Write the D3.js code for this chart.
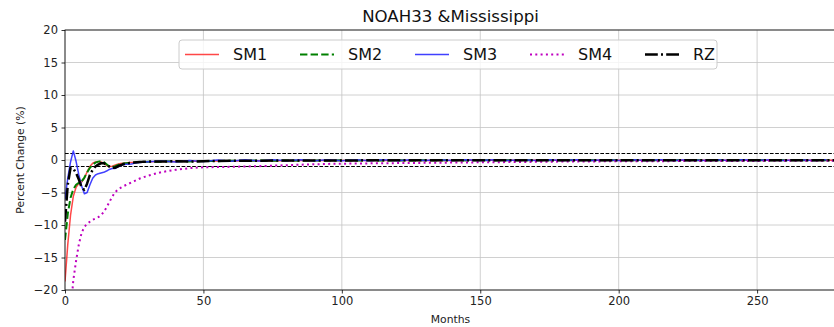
<!DOCTYPE html>
<html>
<head>
<meta charset="utf-8">
<script src="https://cdn.jsdelivr.net/npm/d3@7"></script>
<style>
  html, body { margin: 0; padding: 0; background: #fff; }
  svg { display: block; font-family: "DejaVu Sans", sans-serif; }
</style>
</head>
<body>
<svg id="chart" width="834" height="327"></svg>
<script>
// Month index shared by every series: monthly for the first 30 months, then every 5 months
const months = [
  0, 1, 2, 3, 4, 5, 6, 7, 8, 9, 10, 11, 12, 13, 14, 15, 16, 17, 18, 19, 20,
  21, 22, 23, 24, 25, 26, 27, 28, 29, 30,
  35, 40, 45, 50, 55, 60, 65, 70, 75, 80, 85, 90, 95, 100, 105, 110, 115, 120,
  125, 130, 135, 140, 145, 150, 155, 160, 165, 170, 175, 180, 185, 190, 195, 200,
  205, 210, 215, 220, 225, 230, 235, 240, 245, 250, 255, 260, 265, 270, 275, 278
];

const sm1 = [
  -18.7, -13.0, -8.5, -5.6, -4.2, -3.6, -3.4, -2.8, -1.8, -1.0, -0.5, -0.3, -0.25, -0.3, -0.5, -0.85,
  -1.0, -0.95, -0.8, -0.65, -0.55, -0.5, -0.45, -0.4, -0.4, -0.35, -0.35, -0.3, -0.3, -0.3, -0.28,
  -0.25, -0.22, -0.2, -0.18, -0.15, -0.14, -0.12, -0.12, -0.1, -0.1, -0.09, -0.09, -0.08, -0.08, -0.08,
  -0.07, -0.07, -0.07, -0.06, -0.06, -0.06, -0.06, -0.05, -0.05, -0.05, -0.05, -0.05, -0.05, -0.04,
  -0.04, -0.04, -0.04, -0.04, -0.04, -0.04, -0.04, -0.03, -0.03, -0.03, -0.03, -0.03, -0.03, -0.03,
  -0.03, -0.03, -0.03, -0.03, -0.03, -0.03, -0.03
];

const sm2 = [
  -12.3, -8.3, -5.8, -4.5, -3.8, -3.5, -3.3, -2.7, -1.9, -1.2, -0.7, -0.4, -0.25, -0.2, -0.3, -0.65,
  -1.0, -1.1, -1.0, -0.8, -0.65, -0.55, -0.5, -0.45, -0.4, -0.38, -0.35, -0.32, -0.3, -0.3, -0.28,
  -0.25, -0.18, -0.22, -0.14, -0.18, -0.1, -0.14, -0.08, -0.12, -0.07, -0.1, -0.06, -0.09, -0.05, -0.08,
  -0.05, -0.07, -0.04, -0.07, -0.04, -0.06, -0.04, -0.06, -0.03, -0.06, -0.03, -0.05, -0.03, -0.05,
  -0.03, -0.05, -0.03, -0.05, -0.03, -0.04, -0.03, -0.04, -0.03, -0.04, -0.03, -0.04, -0.03, -0.04,
  -0.03, -0.04, -0.03, -0.04, -0.03, -0.04, -0.03
];

const sm3 = [
  -6.0, -2.8, -0.3, 1.4, -0.2, -2.3, -4.0, -5.2, -5.0, -3.8, -2.8, -2.3, -2.1, -2.0, -1.9, -1.7,
  -1.45, -1.3, -1.3, -1.1, -0.9, -0.75, -0.65, -0.65, -0.6, -0.5, -0.42, -0.38, -0.35, -0.3, -0.28,
  -0.15, -0.3, -0.08, -0.25, 0.0, -0.18, 0.02, -0.15, 0.03, -0.12, 0.04, -0.12, 0.04, -0.1, 0.05,
  -0.1, 0.05, -0.1, 0.05, -0.08, 0.05, -0.08, 0.05, -0.08, 0.05, -0.08, 0.05, -0.07, 0.05, -0.07,
  0.05, -0.07, 0.05, -0.07, 0.05, -0.06, 0.05, -0.06, 0.05, -0.06, 0.05, -0.06, 0.05, -0.06, 0.05,
  -0.06, 0.05, -0.06, 0.04
];

const sm4 = [
  -45.0, -33.0, -23.5, -18.5, -15.5, -13.0, -11.2, -10.3, -9.8, -9.5, -9.2, -9.0, -8.8, -8.5, -8.0, -7.3,
  -6.5, -5.7, -5.0, -4.6, -4.3, -4.05, -3.85, -3.65, -3.45, -3.25, -3.05, -2.85, -2.7, -2.55, -2.4,
  -1.85, -1.5, -1.25, -1.12, -1.08, -1.05, -1.0, -0.95, -0.88, -0.8, -0.72, -0.66, -0.6, -0.57, -0.54,
  -0.52, -0.5, -0.48, -0.46, -0.44, -0.42, -0.4, -0.38, -0.36, -0.34, -0.32, -0.3, -0.28, -0.26, -0.24,
  -0.23, -0.22, -0.21, -0.2, -0.19, -0.18, -0.18, -0.17, -0.16, -0.16, -0.15, -0.15, -0.14, -0.14,
  -0.13, -0.13, -0.12, -0.12, -0.12, -0.11
];

const rz = [
  -9.5, -3.8, -1.2, -1.3, -2.0, -3.0, -4.2, -4.6, -3.6, -2.3, -1.5, -1.0, -0.7, -0.5, -0.5, -0.7,
  -1.0, -1.2, -1.2, -1.0, -0.8, -0.65, -0.55, -0.5, -0.45, -0.4, -0.35, -0.3, -0.28, -0.25, -0.25,
  -0.22, -0.2, -0.25, -0.18, -0.15, -0.12, -0.1, -0.1, -0.08, -0.08, -0.07, -0.07, -0.06, -0.06, -0.06,
  -0.05, -0.05, -0.05, -0.05, -0.05, -0.04, -0.04, -0.04, -0.04, -0.04, -0.04, -0.03, -0.03, -0.03,
  -0.03, -0.03, -0.03, -0.03, -0.03, -0.03, -0.03, -0.02, -0.02, -0.02, -0.02, -0.02, -0.02, -0.02,
  -0.02, -0.02, -0.02, -0.02, -0.02, -0.02, -0.02
];

const seriesNames = ["SM1", "SM2", "SM3", "SM4", "RZ"];
const xTicks = [0, 50, 100, 150, 200, 250];
const yTicks = [-20, -15, -10, -5, 0, 5, 10, 15, 20];
const bandLevels = [1, -1];

const styles = {
  SM1: { color: "#ff3333", width: 1.5, dash: null, opacity: 0.9 },
  SM2: { color: "#008000", width: 2.0, dash: "7.4,3.2", opacity: 1 },
  SM3: { color: "#2b2bff", width: 1.5, dash: null, opacity: 0.9 },
  SM4: { color: "#bf00bf", width: 2.0, dash: "2,3.3", opacity: 1 },
  RZ:  { color: "#000000", width: 2.5, dash: "12.8,3.2,2,3.2", opacity: 1 }
};
const seriesValues = { SM1: sm1, SM2: sm2, SM3: sm3, SM4: sm4, RZ: rz };

const svg = d3.select("#chart");
const margin = { left: 65, right: 836, top: 30, bottom: 290 };

const x = d3.scaleLinear().domain([0, 278.5]).range([margin.left, margin.right]);
const y = d3.scaleLinear().domain([-20, 20]).range([margin.bottom, margin.top]);

svg.append("defs").append("clipPath").attr("id", "plot-clip")
  .append("rect")
  .attr("x", margin.left).attr("y", margin.top)
  .attr("width", margin.right - margin.left).attr("height", margin.bottom - margin.top);

// grid
const grid = svg.append("g").attr("stroke", "#c4c4c4").attr("stroke-width", 0.8);
grid.selectAll("line.gx").data(xTicks).join("line")
  .attr("x1", d => x(d)).attr("x2", d => x(d))
  .attr("y1", margin.top).attr("y2", margin.bottom);
grid.selectAll("line.gy").data(yTicks).join("line")
  .attr("x1", margin.left).attr("x2", margin.right)
  .attr("y1", d => y(d)).attr("y2", d => y(d));

// +/-1 % reference band
svg.append("g").selectAll("line").data(bandLevels).join("line")
  .attr("x1", margin.left).attr("x2", margin.right)
  .attr("y1", d => y(d)).attr("y2", d => y(d))
  .attr("stroke", "#000").attr("stroke-width", 1)
  .attr("stroke-dasharray", "3.7,1.6");

// series lines
const lineGen = d3.line().x(d => x(d[0])).y(d => y(d[1]));
const plot = svg.append("g").attr("clip-path", "url(#plot-clip)");
seriesNames.forEach(name => {
  const st = styles[name];
  const pts = months.map((m, i) => [m, seriesValues[name][i]]);
  plot.append("path")
    .datum(pts)
    .attr("d", lineGen)
    .attr("fill", "none")
    .attr("stroke", st.color)
    .attr("stroke-width", st.width)
    .attr("stroke-opacity", st.opacity)
    .attr("stroke-dasharray", st.dash)
    .attr("stroke-linejoin", "round");
});

// axes
const xAxis = d3.axisBottom(x).tickValues(xTicks).tickSize(3.5).tickPadding(3.5);
const yAxis = d3.axisLeft(y).tickValues(yTicks).tickSize(3.5).tickPadding(3.5);

const gx = svg.append("g").attr("transform", `translate(0,${margin.bottom})`).call(xAxis);
const gy = svg.append("g").attr("transform", `translate(${margin.left},0)`).call(yAxis);
[gx, gy].forEach(g => {
  g.select(".domain").remove();
  g.selectAll(".tick line").attr("stroke", "#000").attr("stroke-width", 0.8);
  g.selectAll(".tick text").attr("font-size", 11.5).attr("fill", "#222")
    .attr("font-family", "DejaVu Sans");
});

// spines
const spines = svg.append("g").attr("stroke", "#000").attr("stroke-width", 0.8).attr("fill", "none");
spines.append("rect")
  .attr("x", margin.left).attr("y", margin.top)
  .attr("width", margin.right - margin.left).attr("height", margin.bottom - margin.top);

// labels
svg.append("text")
  .attr("x", (margin.left + margin.right) / 2).attr("y", 22)
  .attr("text-anchor", "middle").attr("font-size", 16.6).attr("fill", "#111")
  .text("NOAH33 &Mississippi");

svg.append("text")
  .attr("x", (margin.left + margin.right) / 2).attr("y", 323)
  .attr("text-anchor", "middle").attr("font-size", 10.8).attr("fill", "#222")
  .text("Months");

svg.append("text")
  .attr("transform", `translate(24,${(margin.top + margin.bottom) / 2}) rotate(-90)`)
  .attr("text-anchor", "middle").attr("font-size", 10.8).attr("fill", "#222")
  .text("Percent Change (%)");

// legend
const legend = svg.append("g");
legend.append("rect")
  .attr("x", 179).attr("y", 40).attr("width", 538).attr("height", 29).attr("rx", 3)
  .attr("fill", "#fff").attr("fill-opacity", 0.8)
  .attr("stroke", "#cccccc").attr("stroke-width", 1);
seriesNames.forEach((name, i) => {
  const st = styles[name];
  const x0 = 185 + i * 115;
  legend.append("line")
    .attr("x1", x0).attr("x2", x0 + 34).attr("y1", 54.5).attr("y2", 54.5)
    .attr("stroke", st.color).attr("stroke-width", st.width)
    .attr("stroke-opacity", st.opacity)
    .attr("stroke-dasharray", st.dash);
  legend.append("text")
    .attr("x", x0 + 48).attr("y", 54.5).attr("dy", "0.36em")
    .attr("font-size", 16).attr("fill", "#111")
    .text(name);
});
</script>
</body>
</html>
